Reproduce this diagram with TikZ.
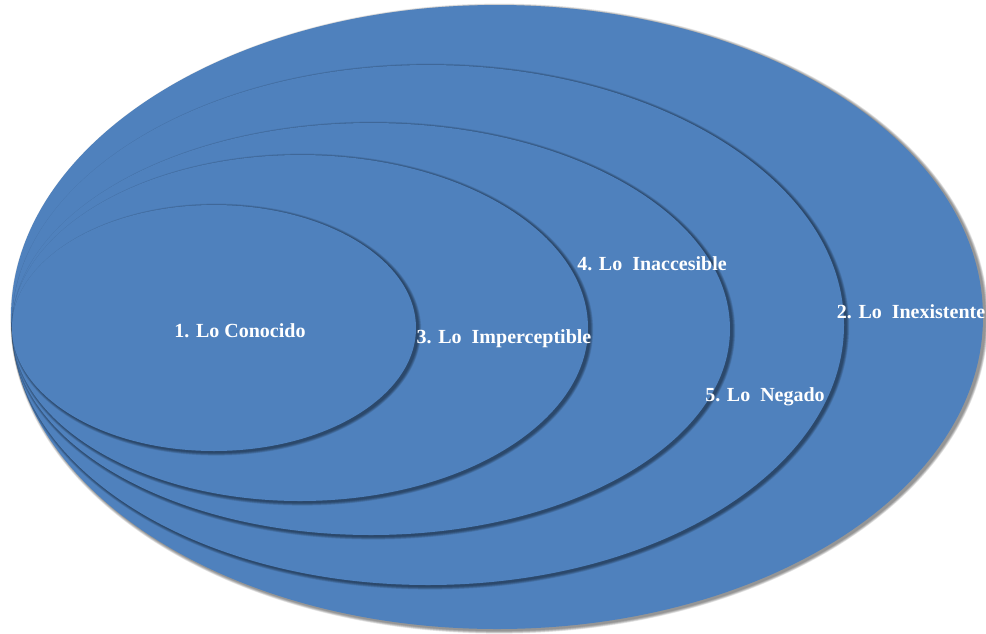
\documentclass[tikz,border=0pt]{standalone}
\usepackage{fontspec}
\setmainfont{Liberation Serif}
\definecolor{myblue}{HTML}{4F81BD}
\newcommand\shEllipse[4]{%
  \foreach \k in {1,...,6} {%
    \fill[black,opacity=0.085] (#1+2.2,#2+1.6) ellipse [x radius=#3pt+\k*0.5pt, y radius=#4pt+\k*0.5pt];
  }%
  \fill[myblue] (#1,#2) ellipse [x radius=#3pt, y radius=#4pt];
}
\tikzset{lbl/.style={text=white,font=\bfseries\fontsize{20}{22}\selectfont,inner sep=0pt}}
\begin{document}
\begin{tikzpicture}[x=1pt,y=-1pt]
\useasboundingbox (0,0) rectangle (986,633);
\shEllipse{497}{317}{486}{312}
\shEllipse{428}{325}{416}{260}
\shEllipse{371}{329}{359}{206}
\shEllipse{300}{328}{288}{173}
\shEllipse{214}{328}{202}{123}
\node[lbl] (n1) at (240,331) {1. Lo Conocido};
\node[lbl] (n3) at (504,339) {3. Lo~~Imperceptible};
\node[lbl] (n4) at (652,264) {4. Lo~~Inaccesible};
\node[lbl] (n2) at (911,312) {2. Lo~~Inexistente};
\node[lbl] (n5) at (765,397) {5. Lo~~Negado};
\end{tikzpicture}
\end{document}
